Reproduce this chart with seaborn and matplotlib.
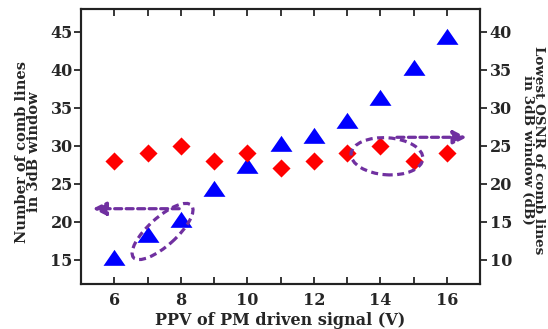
import numpy as np
import pandas as pd
import seaborn as sns
import matplotlib
matplotlib.use("Agg")
import matplotlib.pyplot as plt
from matplotlib.patches import Ellipse
from matplotlib.transforms import Affine2D, ScaledTranslation
from matplotlib.ticker import MultipleLocator

# ---- data ----
ppv = [6, 7, 8, 9, 10, 11, 12, 13, 14, 15, 16]
num_lines = [15, 18, 20, 24, 27, 30, 31, 33, 36, 40, 44]
osnr = [23, 24, 25, 23, 24, 22, 23, 24, 25, 23, 24]
xticks = [6, 8, 10, 12, 14, 16]
left_ticks = [15, 20, 25, 30, 35, 40, 45]
right_ticks = [10, 15, 20, 25, 30, 35, 40]

df = pd.DataFrame({"ppv": ppv, "lines": num_lines, "osnr": osnr})

sns.set_style("ticks")
plt.rcParams["font.family"] = ["DejaVu Serif"]
plt.rcParams["font.weight"] = "bold"

purple = "#7030A0"
fig = plt.figure(figsize=(5.48, 3.29), dpi=100)
ax = fig.add_axes([0.148, 0.137, 0.728, 0.836])
ax2 = ax.twinx()

tri = [(0, 0.97), (-1, -0.485), (1, -0.485)]
sns.scatterplot(data=df, x="ppv", y="lines", ax=ax, marker=tri, s=250,
                color="#0000FF", linewidth=0, zorder=3)
sns.scatterplot(data=df, x="ppv", y="osnr", ax=ax2, marker="D", s=85,
                color="#FF0000", linewidth=0, zorder=3)

ax.set_xlim(5, 17)
ax.set_ylim(11.8, 48)
ax2.set_ylim(6.8, 43)
ax.set_xticks(xticks)
ax.xaxis.set_minor_locator(MultipleLocator(1))
ax.set_yticks(left_ticks)
ax2.set_yticks(right_ticks)

for a in (ax, ax2):
    for s in a.spines.values():
        s.set_visible(True)
        s.set_linewidth(1.5)
        s.set_color("#222222")
ax.tick_params(axis="x", which="both", direction="in", top=True, bottom=True,
               length=5, width=1.3, labelsize=11.5, pad=6)
ax.tick_params(axis="y", direction="out", length=5, width=1.3, labelsize=11.5, pad=1)
ax2.tick_params(axis="y", direction="out", length=5, width=1.3, labelsize=11.5, pad=2)
for lab in ax.get_xticklabels() + ax.get_yticklabels() + ax2.get_yticklabels():
    lab.set_fontweight("bold")

ax.set_xlabel("PPV of PM driven signal (V)", fontsize=11.5, fontweight="bold", labelpad=2)
ax.set_ylabel("Number of comb lines\nin 3dB window", fontsize=10.5, fontweight="bold",
              linespacing=0.8)
ax2.set_ylabel("Lowest OSNR of comb lines\nin 3dB window (dB)", fontsize=9.7,
               fontweight="bold", rotation=270, linespacing=0.8, va="bottom")
ax.yaxis.set_label_coords(-0.100, 0.48)
ax2.yaxis.set_label_coords(1.102, 0.487)

# ---- annotations: dashed ellipses and arrows ----
def px_ellipse(a, xd, yd, w, h, ang):
    t = Affine2D().scale(fig.dpi / 100.0) + ScaledTranslation(xd, yd, a.transData)
    e = Ellipse((0, 0), w, h, angle=ang, fill=False, edgecolor=purple, lw=2.3,
                linestyle=(0, (2.2, 1.4)), transform=t, zorder=4)
    a.add_patch(e)

px_ellipse(ax, 7.45, 18.7, 78, 28, 42)
px_ellipse(ax2, 14.2, 23.6, 72, 37, -4)

ax.annotate("", xy=(5.35, 21.7), xytext=(7.95, 21.7),
            arrowprops=dict(arrowstyle="-|>,head_length=0.8,head_width=0.4",
                            color=purple, lw=2.3, linestyle=(0, (2.2, 1.4)),
                            shrinkA=0, shrinkB=0), zorder=4)
ax2.annotate("", xy=(16.6, 26.1), xytext=(14.5, 26.1),
             arrowprops=dict(arrowstyle="-|>,head_length=0.8,head_width=0.4",
                             color=purple, lw=2.3, linestyle=(0, (2.2, 1.4)),
                             shrinkA=0, shrinkB=0), zorder=4)

fig.savefig("out.png", dpi=100)
